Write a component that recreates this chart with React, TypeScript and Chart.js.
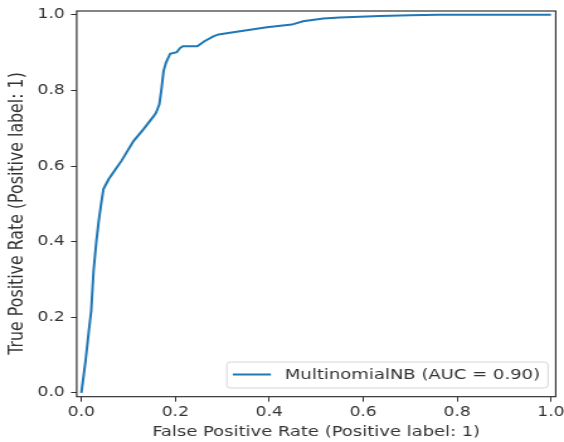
import { useEffect, useRef } from 'react';
import { Chart, registerables } from 'chart.js';

Chart.register(...registerables);

// ---- data ----
const fpr = [0, 0.009, 0.016, 0.021, 0.026, 0.032, 0.037, 0.042, 0.047, 0.058, 0.072, 0.086, 0.111, 0.132, 0.154, 0.159, 0.166, 0.170, 0.175, 0.180, 0.189, 0.203, 0.210, 0.216, 0.247, 0.262, 0.281, 0.292, 0.352, 0.395, 0.448, 0.472, 0.515, 0.550, 0.636, 0.700, 0.760, 1.0];
const tpr = [0, 0.086, 0.165, 0.218, 0.323, 0.402, 0.455, 0.499, 0.539, 0.565, 0.590, 0.615, 0.666, 0.697, 0.732, 0.741, 0.763, 0.798, 0.851, 0.873, 0.897, 0.901, 0.912, 0.917, 0.917, 0.930, 0.943, 0.948, 0.959, 0.967, 0.974, 0.983, 0.990, 0.993, 0.997, 0.999, 1.0, 1.0];
const xTicks = [0, 0.2, 0.4, 0.6, 0.8, 1.0];
const yTicks = [0, 0.2, 0.4, 0.6, 0.8, 1.0];
const seriesLabel = 'MultinomialNB (AUC = 0.90)';
const xTitle = 'False Positive Rate (Positive label: 1)';
const yTitle = 'True Positive Rate (Positive label: 1)';

// ---- layout ----
const PAGE_W = 564;
const PAGE_H = 442;
const INNER_W = 448;
const SX = PAGE_W / INNER_W;
const FONT = 'DejaVu Sans';
const TEXT = '#333333';
const LINE = '#1f77b4';

const framePlugin = {
  id: 'frame',
  afterDatasetsDraw(chart: any) {
    const { ctx, chartArea: a } = chart;
    ctx.save();
    ctx.strokeStyle = '#222222';
    ctx.lineWidth = 1.1;
    ctx.strokeRect(a.left, a.top, a.right - a.left, a.bottom - a.top);
    ctx.restore();
  },
};

const yTitlePlugin = {
  id: 'yTitleText',
  afterDraw(chart: any) {
    const { ctx } = chart;
    ctx.save();
    ctx.translate(13.9, 213.5);
    ctx.rotate(-Math.PI / 2);
    ctx.font = `15.8px "${FONT}"`;
    ctx.fillStyle = TEXT;
    ctx.textAlign = 'center';
    ctx.textBaseline = 'middle';
    ctx.fillText(yTitle, 0, 0);
    ctx.restore();
  },
};

const legendPlugin = {
  id: 'mplLegend',
  afterDraw(chart: any) {
    const { ctx, chartArea: a } = chart;
    const ds = chart.data.datasets[0];
    ctx.save();
    ctx.font = `14.3px "${FONT}"`;
    const tw = ctx.measureText(ds.label).width;
    const padL = 4.7, lineLen = 30.3, gap = 11.1, padR = 6.3;
    const w = padL + lineLen + gap + tw + padR;
    const h = 26;
    const right = a.right - 6.1;
    const bottom = a.bottom - 8.7;
    const x = right - w;
    const y = bottom - h;
    const r = 3;
    ctx.beginPath();
    ctx.moveTo(x + r, y);
    ctx.lineTo(x + w - r, y);
    ctx.arcTo(x + w, y, x + w, y + r, r);
    ctx.lineTo(x + w, y + h - r);
    ctx.arcTo(x + w, y + h, x + w - r, y + h, r);
    ctx.lineTo(x + r, y + h);
    ctx.arcTo(x, y + h, x, y + h - r, r);
    ctx.lineTo(x, y + r);
    ctx.arcTo(x, y, x + r, y, r);
    ctx.closePath();
    ctx.fillStyle = 'rgba(255,255,255,0.8)';
    ctx.fill();
    ctx.strokeStyle = '#d6d6d6';
    ctx.lineWidth = 1;
    ctx.stroke();
    const cy = y + h / 2;
    ctx.beginPath();
    ctx.moveTo(x + padL, cy - 0.5);
    ctx.lineTo(x + padL + lineLen, cy - 0.5);
    ctx.strokeStyle = ds.borderColor;
    ctx.lineWidth = 2;
    ctx.stroke();
    ctx.fillStyle = TEXT;
    ctx.textBaseline = 'middle';
    ctx.textAlign = 'left';
    ctx.fillText(ds.label, x + padL + lineLen + gap, cy + 0.5);
    ctx.restore();
  },
};

export default function App() {
  const ref = useRef<HTMLCanvasElement>(null);

  useEffect(() => {
    if (!ref.current) return;
    const points = fpr.map((x, i) => ({ x, y: tpr[i] }));
    const tickFont = { family: FONT, size: 13.6 };
    const chart = new Chart(ref.current, {
      type: 'scatter',
      data: {
        datasets: [
          {
            label: seriesLabel,
            data: points,
            showLine: true,
            borderColor: LINE,
            backgroundColor: LINE,
            borderWidth: 2,
            pointRadius: 0,
            tension: 0,
          },
        ],
      },
      options: {
        responsive: false,
        animation: false,
        events: [],
        layout: { padding: { top: 11, right: 6.6, left: 0, bottom: 0 } },
        plugins: {
          legend: { display: false },
          tooltip: { enabled: false },
        },
        scales: {
          x: {
            type: 'linear',
            min: -0.01,
            max: 1.01,
            afterBuildTicks(scale: any) {
              scale.ticks = xTicks.map((v) => ({ value: v }));
            },
            afterFit(scale: any) {
              scale.height = 45.3;
              scale.paddingLeft = 0;
              scale.paddingRight = 0;
            },
            grid: { display: true, drawOnChartArea: false, drawTicks: true, tickLength: 5, color: '#333333', lineWidth: 1 },
            border: { display: false },
            ticks: {
              font: tickFont,
              color: TEXT,
              padding: 3,
              maxRotation: 0,
              autoSkip: false,
              callback: (v: any) => Number(v).toFixed(1),
            },
            title: {
              display: true,
              text: xTitle,
              color: TEXT,
              font: { family: FONT, size: 14.25 },
              padding: { top: 0, bottom: 1 },
            },
          },
          y: {
            type: 'linear',
            min: -0.01,
            max: 1.01,
            afterBuildTicks(scale: any) {
              scale.ticks = yTicks.map((v) => ({ value: v }));
            },
            afterFit(scale: any) {
              scale.width = 60.9;
              scale.paddingTop = 0;
              scale.paddingBottom = 0;
            },
            grid: { display: true, drawOnChartArea: false, drawTicks: true, tickLength: 4.5, color: '#333333', lineWidth: 1 },
            border: { display: false },
            ticks: {
              font: tickFont,
              color: TEXT,
              padding: 5,
              autoSkip: false,
              callback: (v: any) => Number(v).toFixed(1),
            },
            title: { display: false, text: yTitle },
          },
        },
      },
      plugins: [framePlugin, legendPlugin, yTitlePlugin],
    });
    return () => chart.destroy();
  }, []);

  return (
    <div
      style={{
        position: 'fixed',
        left: 0,
        top: 0,
        width: PAGE_W,
        height: PAGE_H,
        overflow: 'hidden',
        background: '#ffffff',
      }}
    >
      <canvas
        ref={ref}
        width={INNER_W}
        height={PAGE_H}
        style={{
          width: INNER_W,
          height: PAGE_H,
          display: 'block',
          transform: `scaleX(${SX})`,
          transformOrigin: '0 0',
        }}
      />
    </div>
  );
}
